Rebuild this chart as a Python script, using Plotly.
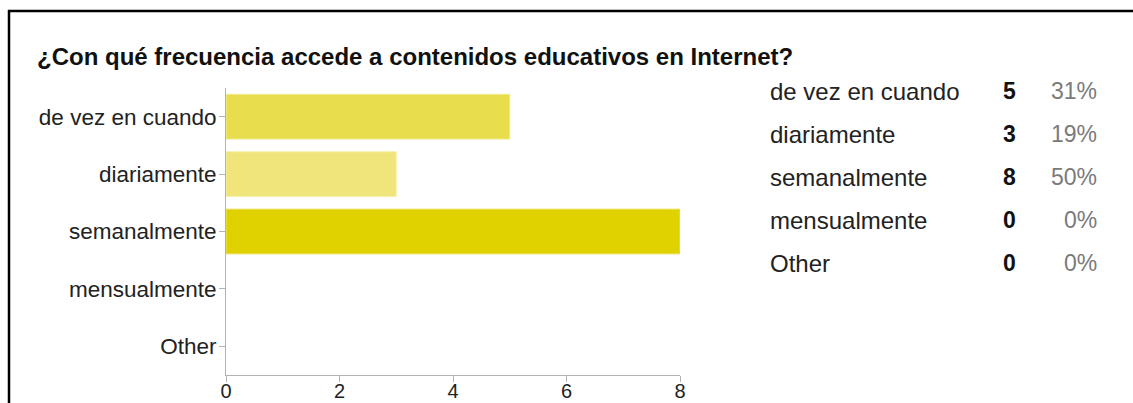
import plotly.graph_objects as go

# Survey answers and counts
categories = ["de vez en cuando", "diariamente", "semanalmente", "mensualmente", "Other"]
counts = [5, 3, 8, 0, 0]
bar_colors = ["#e8de4d", "#efe57b", "#e0d200", "#e0d200", "#e0d200"]
edge_colors = ["#f2eb92", "#f5efad", "#ece26a", "#ece26a", "#ece26a"]
x_ticks = [0, 2, 4, 6, 8]
title_text = "¿Con qué frecuencia accede a contenidos educativos en Internet?"

W, H = 1133, 403
ML, MR, MT, MB = 226, 453, 88, 28
PW, PH = W - ML - MR, H - MT - MB


def px_x(px):
    return (px - ML) / PW


def px_y(py):
    return (H - MB - py) / PH


FONT = "Arial, Liberation Sans, sans-serif"

fig = go.Figure(
    go.Bar(
        x=counts,
        y=categories,
        orientation="h",
        marker=dict(
            color=bar_colors,
            line=dict(color=edge_colors, width=[1 if n > 0 else 0 for n in counts]),
        ),
        hoverinfo="x+y",
    )
)

fig.update_layout(
    width=W,
    height=H,
    margin=dict(l=ML, r=MR, t=MT, b=MB, autoexpand=False),
    paper_bgcolor="white",
    plot_bgcolor="white",
    showlegend=False,
    bargap=0.22,
    font=dict(family=FONT, color="#222222"),
)

axis_style = dict(
    showgrid=False,
    zeroline=False,
    showline=True,
    linecolor="#b3b3b3",
    linewidth=1,
    ticks="outside",
    ticklen=6,
    tickcolor="#b3b3b3",
    automargin=False,
)
fig.update_xaxes(
    range=[0, 8],
    tickvals=x_ticks,
    tickfont=dict(size=20, color="#222222"),
    ticklabelstandoff=-8,
    **axis_style,
)
fig.update_yaxes(
    categoryorder="array",
    categoryarray=categories,
    autorange="reversed",
    tickfont=dict(size=22.5, color="#222222"),
    ticklabelstandoff=-2,
    **axis_style,
)

annotations = [
    dict(
        text="<b>" + title_text + "</b>",
        x=px_x(35), y=px_y(56), xref="paper", yref="paper",
        xanchor="left", yanchor="middle", showarrow=False,
        font=dict(size=24, color="#111111", family=FONT),
    )
]

# Summary table: answer, count, share of total
total = sum(counts)
row_top, row_step = 91, 43.0
for i, (cat, n) in enumerate(zip(categories, counts)):
    yy = px_y(row_top + i * row_step)
    pct = f"{round(100 * n / total)}%"
    annotations.append(dict(
        text=cat, x=px_x(768), y=yy, xref="paper", yref="paper",
        xanchor="left", yanchor="middle", showarrow=False,
        font=dict(size=24, color="#222222", family=FONT),
    ))
    annotations.append(dict(
        text=f"<b>{n}</b>", x=px_x(1009), y=yy, xref="paper", yref="paper",
        xanchor="center", yanchor="middle", showarrow=False,
        font=dict(size=23, color="#111111", family=FONT),
    ))
    annotations.append(dict(
        text=pct, x=px_x(1099), y=yy, xref="paper", yref="paper",
        xanchor="right", yanchor="middle", showarrow=False,
        font=dict(size=23, color="#7a7a7a", family=FONT),
    ))

fig.update_layout(annotations=annotations)

# Frame: top and left edges
fig.add_shape(type="line", xref="paper", yref="paper",
              x0=px_x(8), x1=px_x(W + 5), y0=px_y(11), y1=px_y(11),
              line=dict(color="#000000", width=2.5))
fig.add_shape(type="line", xref="paper", yref="paper",
              x0=px_x(9), x1=px_x(9), y0=px_y(10), y1=px_y(H + 5),
              line=dict(color="#000000", width=2.5))

fig.write_html("out.html")
